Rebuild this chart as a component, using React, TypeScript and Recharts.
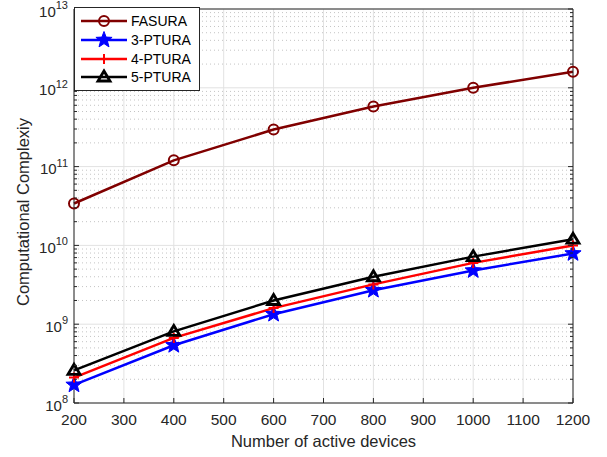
import React from 'react';
import { LineChart, Line, XAxis, YAxis, CartesianGrid, Legend } from 'recharts';

// number of active devices
const devices = [200, 400, 600, 800, 1000, 1200];

// computational complexity per scheme
const fasura = [3.4e10, 1.2e11, 2.95e11, 5.8e11, 1.0e12, 1.6e12];
const ptura3 = [1.7e8, 5.4e8, 1.34e9, 2.7e9, 4.8e9, 7.9e9];
const ptura4 = [2.1e8, 6.7e8, 1.6e9, 3.2e9, 6.0e9, 1.0e10];
const ptura5 = [2.6e8, 8.1e8, 2.0e9, 4.0e9, 7.2e9, 1.2e10];

const xTicks = [200, 300, 400, 500, 600, 700, 800, 900, 1000, 1100, 1200];
const yMajor = [1e8, 1e9, 1e10, 1e11, 1e12, 1e13];
const minorSteps = [2, 3, 4, 5, 6, 7, 8, 9];
const yMinor = yMajor.slice(0, -1).flatMap((d) => minorSteps.map((m) => m * d));
const yTicks = [...yMajor, ...yMinor].sort((a, b) => a - b);

const data = devices.map((n, i) => ({
  n,
  FASURA: fasura[i],
  P3: ptura3[i],
  P4: ptura4[i],
  P5: ptura5[i],
}));

const FONT = '"Liberation Sans", Arial, Helvetica, sans-serif';
const AX = '#262626';
const isMajor = (v: number) => yMajor.includes(v);

const Marker = ({ kind, cx, cy, color }: any) => {
  if (kind === 'circle')
    return <circle cx={cx} cy={cy} r={5} fill="none" stroke={color} strokeWidth={2} />;
  if (kind === 'star') {
    const pts: string[] = [];
    for (let k = 0; k < 10; k++) {
      const r = k % 2 === 0 ? 8.5 : 3.6;
      const a = -Math.PI / 2 + (k * Math.PI) / 5;
      pts.push(`${cx + r * Math.cos(a)},${cy + r * Math.sin(a)}`);
    }
    return <polygon points={pts.join(' ')} fill={color} stroke={color} strokeWidth={1} />;
  }
  if (kind === 'plus')
    return (
      <path d={`M${cx - 5},${cy}H${cx + 5}M${cx},${cy - 5}V${cy + 5}`} stroke={color} strokeWidth={2} />
    );
  return (
    <polygon
      points={`${cx},${cy - 6} ${cx - 6},${cy + 4} ${cx + 6},${cy + 4}`}
      fill="none"
      stroke={color}
      strokeWidth={2.8}
      strokeLinejoin="miter"
    />
  );
};

const series = [
  { key: 'FASURA', name: 'FASURA', color: '#800000', kind: 'circle' },
  { key: 'P3', name: '3-PTURA', color: '#0000ff', kind: 'star' },
  { key: 'P4', name: '4-PTURA', color: '#ff0000', kind: 'plus' },
  { key: 'P5', name: '5-PTURA', color: '#000000', kind: 'triangle' },
];

const LeftTick = ({ x, y, payload }: any) => {
  const v = payload.value;
  const major = isMajor(v);
  return (
    <g>
      <line x1={x} y1={y} x2={x + (major ? 5 : 3)} y2={y} stroke={AX} />
      {major && (
        <text x={x - 6} y={y + 7.5} textAnchor="end" fill={AX} fontSize={15} fontFamily={FONT}>
          10
          <tspan dy={-7.5} fontSize={11}>
            {Math.round(Math.log10(v))}
          </tspan>
        </text>
      )}
    </g>
  );
};

const RightTick = ({ x, y, payload }: any) => {
  const major = isMajor(payload.value);
  return <line x1={x} y1={y} x2={x - (major ? 5 : 3)} y2={y} stroke={AX} />;
};

const BottomTick = ({ x, y, payload }: any) => (
  <g>
    <line x1={x} y1={y} x2={x} y2={y - 5} stroke={AX} />
    <text x={x} y={y + 22} textAnchor="middle" fill={AX} fontSize={15.5} fontFamily={FONT}>
      {payload.value}
    </text>
  </g>
);

const TopTick = ({ x, y }: any) => <line x1={x} y1={y} x2={x} y2={y + 5} stroke={AX} />;

const XLabel = ({ viewBox }: any) => (
  <text
    x={viewBox.x + viewBox.width / 2}
    y={viewBox.y + 44}
    textAnchor="middle"
    fill={AX}
    fontSize={16.5}
    fontFamily={FONT}
  >
    Number of active devices
  </text>
);

const YLabel = ({ viewBox }: any) => {
  const x = viewBox.x + 9;
  const y = viewBox.y + viewBox.height / 2 + 6;
  return (
    <text
      x={x}
      y={y}
      transform={`rotate(-90, ${x}, ${y})`}
      textAnchor="middle"
      fill={AX}
      fontSize={16.5}
      fontFamily={FONT}
    >
      Computational Complexiy
    </text>
  );
};

const LegendBox = () => (
  <div
    style={{
      background: '#fff',
      border: `1px solid ${AX}`,
      padding: '4px 8px 3px 5px',
      fontFamily: FONT,
      fontSize: 14,
      color: '#000',
    }}
  >
    {series.map((s) => (
      <div key={s.key} style={{ display: 'flex', alignItems: 'center', height: 18.7 }}>
        <svg width={48} height={18}>
          <line x1={1} y1={9} x2={47} y2={9} stroke={s.color} strokeWidth={2.5} />
          <Marker kind={s.kind} cx={24} cy={9} color={s.color} />
        </svg>
        <span style={{ marginLeft: 3 }}>{s.name}</span>
      </div>
    ))}
  </div>
);

export default function App() {
  return (
    <div style={{ position: 'absolute', left: 0, top: 0, width: 607, height: 457, background: '#fff' }}>
      <LineChart
        width={607}
        height={457}
        data={data}
        margin={{ top: 8, right: 33, bottom: 0, left: 20 }}
      >
        <CartesianGrid
          horizontalValues={yMinor}
          vertical={false}
          stroke="#c4c4c4"
          strokeDasharray="1 3"
        />
        <CartesianGrid horizontalValues={yMajor} verticalValues={xTicks} stroke="#e2e2e2" />
        <XAxis
          dataKey="n"
          type="number"
          domain={[200, 1200]}
          ticks={xTicks}
          interval={0}
          height={54}
          tickSize={0}
          tickMargin={0}
          tickLine={false}
          stroke={AX}
          tick={<BottomTick />}
          label={<XLabel />}
        />
        <XAxis
          xAxisId="top"
          orientation="top"
          type="number"
          domain={[200, 1200]}
          ticks={xTicks}
          interval={0}
          height={1}
          tickSize={0}
          tickMargin={0}
          tickLine={false}
          stroke={AX}
          tick={<TopTick />}
        />
        <YAxis
          type="number"
          scale="log"
          domain={[1e8, 1e13]}
          allowDataOverflow
          ticks={yTicks}
          interval={0}
          width={54}
          tickSize={0}
          tickMargin={0}
          tickLine={false}
          stroke={AX}
          tick={<LeftTick />}
          label={<YLabel />}
        />
        <YAxis
          yAxisId="right"
          orientation="right"
          type="number"
          scale="log"
          domain={[1e8, 1e13]}
          allowDataOverflow
          ticks={yTicks}
          interval={0}
          width={1}
          tickSize={0}
          tickMargin={0}
          tickLine={false}
          stroke={AX}
          tick={<RightTick />}
        />
        <Legend
          layout="vertical"
          align="center"
          verticalAlign="middle"
          wrapperStyle={{ top: 7, left: 74, width: 'auto' }}
          content={<LegendBox />}
        />
        {series.map((s) => (
          <Line
            key={s.key}
            dataKey={s.key}
            name={s.name}
            stroke={s.color}
            strokeWidth={2.5}
            isAnimationActive={false}
            dot={(p: any) => <Marker key={`${s.key}-${p.index}`} kind={s.kind} cx={p.cx} cy={p.cy} color={s.color} />}
          />
        ))}
      </LineChart>
    </div>
  );
}
